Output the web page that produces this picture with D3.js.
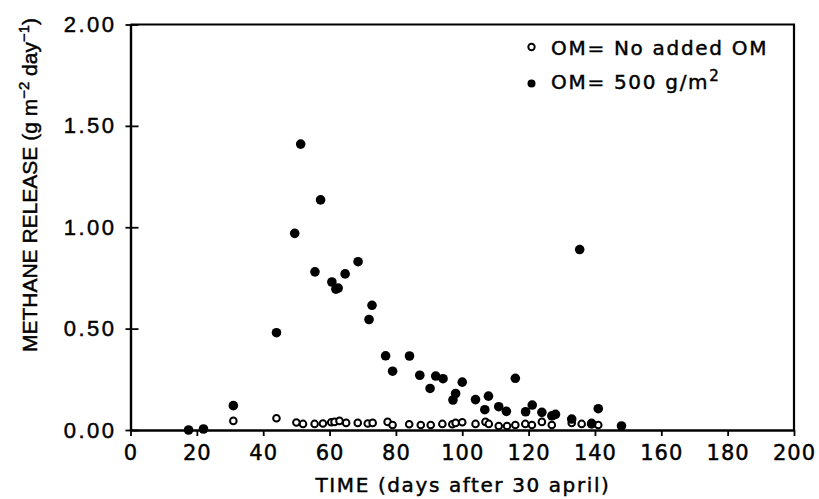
<!DOCTYPE html>
<html>
<head>
<meta charset="utf-8">
<script src="https://cdn.jsdelivr.net/npm/d3@7"></script>
<style>
  body { margin: 0; background: #fff; }
  text { fill: #000; stroke: #000; stroke-width: 0.45px; }
</style>
</head>
<body>
<div id="container"></div>
<script>
let w = 819;
let h = 499;

// DATA
let openDays = [31, 44, 50, 52, 55.5, 58, 60.5, 61.5, 63, 65, 68.5, 71.5, 73, 77.5, 79, 84, 87.5, 90.5, 94, 97, 98, 100, 104, 107, 108, 111, 113.5, 116, 119, 121, 124, 127, 133, 136, 139, 141];
let openValues = [0.045, 0.058, 0.037, 0.03, 0.03, 0.032, 0.038, 0.04, 0.045, 0.035, 0.035, 0.032, 0.035, 0.04, 0.025, 0.028, 0.025, 0.025, 0.03, 0.028, 0.035, 0.038, 0.03, 0.04, 0.03, 0.02, 0.02, 0.025, 0.03, 0.025, 0.04, 0.025, 0.035, 0.03, 0.035, 0.025];

let filledDays = [17.5, 22, 31, 44, 49.5, 51.3, 55.6, 57.3, 60.7, 61.9, 62.6, 64.7, 68.6, 71.9, 72.8, 76.9, 79, 84.1, 87.2, 90.3, 92, 94.2, 97.2, 98, 100, 104, 106.8, 107.9, 111, 113.3, 116, 119.1, 121.1, 124, 127, 128.1, 133, 135.4, 139, 141, 148];
let filledValues = [0.0, 0.005, 0.12, 0.48, 0.97, 1.41, 0.78, 1.135, 0.73, 0.695, 0.70, 0.77, 0.83, 0.545, 0.615, 0.366, 0.29, 0.365, 0.27, 0.205, 0.266, 0.253, 0.148, 0.18, 0.236, 0.15, 0.10, 0.167, 0.115, 0.092, 0.255, 0.09, 0.123, 0.087, 0.07, 0.077, 0.054, 0.89, 0.03, 0.105, 0.02];

let xTicks = [0, 20, 40, 60, 80, 100, 120, 140, 160, 180, 200];
let yTicks = [0, 0.5, 1.0, 1.5, 2.0];

let seriesLabels = ["OM= No added OM", "OM= 500 g/m"];

// SVG
let viz = d3.select("#container").append("svg")
    .attr("width", w)
    .attr("height", h)
    .style("display", "block")
    .style("background-color", "white");

// SCALES
let xScale = d3.scaleLinear().domain([0, 200]).range([130.5, 794]);
let yScale = d3.scaleLinear().domain([0, 2]).range([430, 24.5]);

// frame (top + right)
viz.append("path")
    .attr("d", "M" + xScale(0) + "," + yScale(2) + "H" + xScale(200) + "V" + yScale(0))
    .attr("fill", "none")
    .attr("stroke", "black")
    .attr("stroke-width", 2.2);

// X AXIS
let xAxis = d3.axisBottom(xScale).tickValues(xTicks).tickSize(6).tickSizeOuter(0).tickPadding(9)
    .tickFormat(d3.format("d"));
let xg = viz.append("g")
    .attr("transform", "translate(0," + yScale(0) + ")")
    .call(xAxis);
xg.select(".domain").attr("stroke-width", 2.4);
xg.selectAll(".tick line").attr("stroke-width", 1.8);
xg.selectAll(".tick text")
    .style("font-family", "'DejaVu Sans', sans-serif")
    .style("font-size", "21px")
    .style("letter-spacing", "1px")
    .attr("dy", "0.71em");

// Y AXIS
let yAxis = d3.axisLeft(yScale).tickValues(yTicks).tickSize(5).tickSizeOuter(0).tickPadding(9)
    .tickFormat(d3.format(".2f"));
let yg = viz.append("g")
    .attr("transform", "translate(" + xScale(0) + ",0)")
    .call(yAxis);
yg.select(".domain").attr("stroke-width", 2.4);
yg.selectAll(".tick line").attr("x1", 8).attr("stroke-width", 1.8);
yg.selectAll(".tick text")
    .style("font-family", "'Liberation Sans', Arial, sans-serif")
    .style("font-size", "22px")
    .style("letter-spacing", "2.5px");

// AXIS TITLES
viz.append("text")
    .attr("x", 463)
    .attr("y", 492)
    .attr("text-anchor", "middle")
    .style("font-family", "'DejaVu Sans', sans-serif")
    .style("font-size", "20px")
    .style("letter-spacing", "1.6px")
    .text("TIME (days after 30 april)");

let yt = viz.append("text")
    .attr("transform", "translate(37,185) rotate(-90)")
    .attr("text-anchor", "middle")
    .style("font-family", "'Liberation Sans', Arial, sans-serif")
    .style("font-size", "21px");
yt.append("tspan").text("METHANE RELEASE (g m");
yt.append("tspan").attr("dy", -8).style("font-size", "15px").text("\u22122");
yt.append("tspan").attr("dy", 8).text(" day");
yt.append("tspan").attr("dy", -8).style("font-size", "15px").text("\u22121");
yt.append("tspan").attr("dy", 8).text(")");

// POINTS
let openData = openDays.map(function(d, i){ return {day: d, value: openValues[i]}; });
let filledData = filledDays.map(function(d, i){ return {day: d, value: filledValues[i]}; });

viz.selectAll(".open").data(openData).enter()
  .append("circle")
    .attr("class", "open")
    .attr("cx", function(d){ return xScale(d.day); })
    .attr("cy", function(d){ return yScale(d.value); })
    .attr("r", 3.3)
    .attr("fill", "white")
    .attr("stroke", "black")
    .attr("stroke-width", 2);

viz.selectAll(".filled").data(filledData).enter()
  .append("circle")
    .attr("class", "filled")
    .attr("cx", function(d){ return xScale(d.day); })
    .attr("cy", function(d){ return yScale(d.value); })
    .attr("r", 4.8)
    .attr("fill", "black");

// LEGEND
let legend = viz.append("g")
    .style("font-family", "'DejaVu Sans', sans-serif")
    .style("font-size", "20px")
    .style("letter-spacing", "1.7px");

legend.append("circle")
    .attr("cx", 531.5).attr("cy", 47)
    .attr("r", 3.2)
    .attr("fill", "white").attr("stroke", "black").attr("stroke-width", 1.9);
legend.append("text")
    .attr("x", 551).attr("y", 55)
    .text(seriesLabels[0]);

legend.append("circle")
    .attr("cx", 531.5).attr("cy", 83.5)
    .attr("r", 4)
    .attr("fill", "black");
let l2 = legend.append("text")
    .attr("x", 551).attr("y", 89);
l2.append("tspan").text(seriesLabels[1]);
l2.append("tspan").attr("dy", -8).style("font-size", "15px").text("2");
</script>
</body>
</html>
